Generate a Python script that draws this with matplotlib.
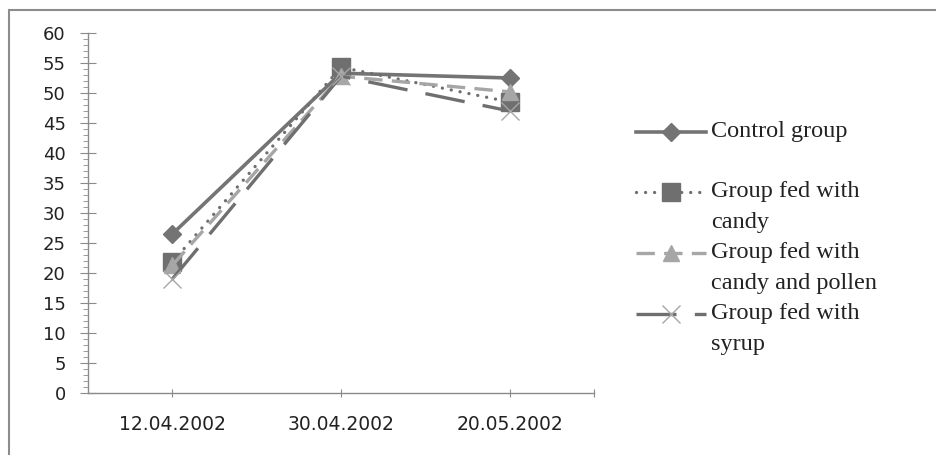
import numpy as np
import matplotlib
matplotlib.use('Agg')
from matplotlib import pyplot as plt
from matplotlib.lines import Line2D
from matplotlib.patches import Rectangle

#%%

dates = ['12.04.2002', '30.04.2002', '20.05.2002']
control = [26.5, 53.3, 52.5]
candy = [21.8, 54.3, 48.5]
candy_pollen = [21.3, 52.8, 50.2]
syrup = [19.0, 52.8, 47.0]

labels = [['Control group'],
          ['Group fed with', 'candy'],
          ['Group fed with', 'candy and pollen'],
          ['Group fed with', 'syrup']]

DARK = '#6f6f6f'
LIGHT = '#a6a6a6'

styles = [
    dict(color='#747474', lw=2.6, ls='-', marker='D', ms=9,
         mfc='#747474', mec='#747474'),
    dict(color=DARK, lw=2.4, ls=(0, (0.01, 2.7)), dash_capstyle='round',
         marker='s', ms=12.5, mfc=DARK, mec=DARK),
    dict(color=LIGHT, lw=2.4, ls=(0, (5.5, 2.8)),
         marker='^', ms=11, mfc=LIGHT, mec=LIGHT),
    dict(color=DARK, lw=2.4, ls=(0, (12, 5.5)),
         marker='x', ms=13, mew=1.0, mec=LIGHT),
]

#%%

W, H = 937, 455
fig = plt.figure(figsize=(W / 100, H / 100), dpi=100)
ax = fig.add_axes([88 / W, 1 - 393 / H, 506 / W, 360 / H])

x = np.arange(len(dates))
for values, style in zip([control, candy, candy_pollen, syrup], styles):
    ax.plot(x, values, clip_on=False, **style)

ax.set_xlim(-0.5, 2.5)
ax.set_ylim(0, 60)
ax.set_yticks(np.arange(0, 61, 5))
ax.set_yticks(np.arange(0, 61, 1), minor=True)
ax.set_xticks(list(x) + [2.5])
ax.set_xticklabels(dates + [''])

for side in ['top', 'right']:
    ax.spines[side].set_visible(False)
for side in ['left', 'bottom']:
    ax.spines[side].set_color('#8a8a8a')
    ax.spines[side].set_linewidth(1.0)

ax.tick_params(axis='y', which='major', direction='inout', length=12,
               color='#8a8a8a', labelsize=13, pad=10, labelcolor='#222222')
ax.tick_params(axis='y', which='minor', direction='out', length=3.5,
               color='#8a8a8a')
ax.tick_params(axis='x', which='major', direction='inout', length=6,
               color='#8a8a8a', labelsize=13.5, pad=13, labelcolor='#222222')

# outer chart frame (left and top edges visible)
fig.add_artist(Rectangle((9 / W, -0.2), 1.2, 1.2 - 10 / H,
                         transform=fig.transFigure, fill=False,
                         edgecolor='#8c8c8c', lw=1.5))

# legend drawn by hand to match the wrapped layout
legend_y = [132, 192, 253, 314]
for lines, style, y in zip(labels, styles, legend_y):
    yy = 1 - y / H
    fig.add_artist(Line2D([636 / W, 671 / W, 706 / W], [yy, yy, yy],
                          transform=fig.transFigure, markevery=[1], **style))
    for i, line in enumerate(lines):
        fig.text(711 / W, 1 - (y + 5 + 31 * i) / H, line, ha='left',
                 va='baseline', family='Liberation Serif', fontsize=17.5,
                 color='#222222')

fig.savefig('out.png', dpi=100)
